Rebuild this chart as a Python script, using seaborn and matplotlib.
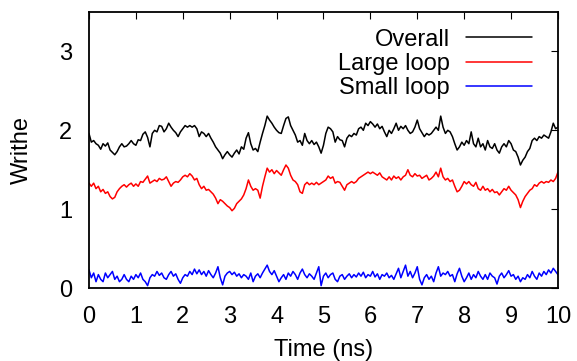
import numpy as np
import pandas as pd
import matplotlib
matplotlib.use("Agg")
import matplotlib.pyplot as plt
import seaborn as sns

# writhe traces, every 0.05 ns
overall = [1.96, 1.85, 1.87, 1.83, 1.81, 1.76, 1.83, 1.80, 1.84, 1.75,
           1.72, 1.69, 1.73, 1.79, 1.83, 1.79, 1.80, 1.83, 1.87, 1.83,
           1.81, 1.88, 1.87, 1.95, 1.98, 1.91, 1.79, 1.96, 2.00, 1.98,
           2.06, 2.05, 1.98, 2.02, 2.09, 2.04, 2.00, 1.97, 1.92, 1.98,
           2.02, 2.06, 2.04, 2.06, 2.04, 2.06, 2.02, 1.92, 1.98, 1.96,
           1.92, 1.96, 1.90, 1.85, 1.79, 1.75, 1.71, 1.64, 1.69, 1.73,
           1.69, 1.66, 1.71, 1.75, 1.70, 1.79, 1.76, 1.90, 1.97, 1.83,
           1.75, 1.77, 1.73, 1.85, 1.96, 2.06, 2.18, 2.13, 2.09, 2.04,
           2.00, 1.97, 1.96, 2.06, 2.15, 2.17, 2.06, 2.00, 1.94, 1.85,
           1.87, 1.81, 1.96, 1.87, 1.83, 1.87, 1.82, 1.85, 1.79, 1.71,
           1.81, 1.96, 2.04, 2.02, 1.98, 1.85, 1.92, 1.88, 1.87, 1.79,
           1.90, 1.94, 1.92, 1.96, 1.94, 2.02, 2.04, 2.00, 2.09, 2.06,
           2.11, 2.08, 2.04, 2.08, 2.02, 2.05, 1.98, 1.92, 2.00, 1.96,
           2.02, 2.09, 2.00, 2.05, 2.02, 2.06, 2.00, 1.96, 1.98, 2.04,
           2.13, 2.02, 1.97, 1.92, 1.96, 1.94, 1.96, 2.00, 2.04, 2.00,
           2.18, 2.04, 1.96, 2.00, 1.98, 1.92, 1.83, 1.75, 1.79, 1.85,
           1.81, 1.87, 1.83, 1.98, 1.83, 1.79, 1.90, 1.79, 1.83, 1.75,
           1.87, 1.79, 1.77, 1.83, 1.75, 1.71, 1.79, 1.83, 1.79, 1.87,
           1.83, 1.75, 1.73, 1.66, 1.56, 1.62, 1.66, 1.73, 1.77, 1.87,
           1.90, 1.87, 1.92, 1.90, 1.94, 1.92, 1.90, 1.98, 2.09, 2.02,
           2.04]

large_loop = [1.33, 1.29, 1.33, 1.26, 1.29, 1.22, 1.25, 1.20, 1.22, 1.16,
              1.13, 1.15, 1.22, 1.26, 1.29, 1.31, 1.28, 1.31, 1.33, 1.29,
              1.32, 1.29, 1.35, 1.34, 1.38, 1.42, 1.33, 1.35, 1.37, 1.35,
              1.39, 1.37, 1.38, 1.41, 1.35, 1.29, 1.33, 1.35, 1.34, 1.37,
              1.41, 1.43, 1.41, 1.45, 1.42, 1.37, 1.39, 1.31, 1.26, 1.29,
              1.24, 1.25, 1.22, 1.19, 1.14, 1.07, 1.12, 1.10, 1.07, 1.04,
              1.02, 0.98, 1.01, 1.07, 1.10, 1.13, 1.18, 1.26, 1.37, 1.29,
              1.24, 1.26, 1.24, 1.14, 1.29, 1.41, 1.52, 1.47, 1.50, 1.45,
              1.49, 1.46, 1.43, 1.50, 1.56, 1.52, 1.43, 1.37, 1.35, 1.31,
              1.22, 1.20, 1.31, 1.34, 1.31, 1.33, 1.31, 1.34, 1.31, 1.33,
              1.35, 1.37, 1.42, 1.39, 1.41, 1.33, 1.35, 1.34, 1.29, 1.24,
              1.31, 1.33, 1.35, 1.33, 1.35, 1.39, 1.41, 1.43, 1.45, 1.47,
              1.45, 1.47, 1.45, 1.43, 1.46, 1.41, 1.39, 1.37, 1.41, 1.37,
              1.42, 1.39, 1.41, 1.37, 1.41, 1.43, 1.50, 1.43, 1.41, 1.45,
              1.42, 1.43, 1.39, 1.41, 1.43, 1.37, 1.39, 1.42, 1.47, 1.41,
              1.52, 1.41, 1.37, 1.39, 1.35, 1.37, 1.29, 1.22, 1.24, 1.29,
              1.35, 1.32, 1.35, 1.31, 1.29, 1.34, 1.26, 1.24, 1.29, 1.24,
              1.26, 1.22, 1.25, 1.21, 1.22, 1.18, 1.22, 1.26, 1.24, 1.29,
              1.24, 1.21, 1.18, 1.12, 1.02, 1.10, 1.16, 1.20, 1.24, 1.26,
              1.31, 1.29, 1.33, 1.35, 1.33, 1.35, 1.34, 1.37, 1.35, 1.39,
              1.47]

small_loop = [0.23, 0.13, 0.19, 0.08, 0.17, 0.11, 0.08, 0.19, 0.13, 0.17,
              0.21, 0.11, 0.15, 0.08, 0.11, 0.17, 0.11, 0.08, 0.15, 0.11,
              0.17, 0.13, 0.19, 0.11, 0.08, 0.03, 0.13, 0.17, 0.15, 0.21,
              0.16, 0.19, 0.13, 0.11, 0.17, 0.21, 0.15, 0.18, 0.11, 0.06,
              0.13, 0.17, 0.15, 0.21, 0.17, 0.24, 0.18, 0.23, 0.17, 0.21,
              0.15, 0.22, 0.17, 0.13, 0.19, 0.27, 0.13, 0.04, 0.15, 0.19,
              0.21, 0.17, 0.20, 0.15, 0.18, 0.13, 0.17, 0.15, 0.11, 0.19,
              0.08, 0.15, 0.18, 0.13, 0.19, 0.24, 0.29, 0.21, 0.17, 0.22,
              0.15, 0.08, 0.13, 0.17, 0.11, 0.19, 0.15, 0.21, 0.17, 0.11,
              0.19, 0.24, 0.17, 0.13, 0.18, 0.15, 0.11, 0.19, 0.27, 0.03,
              0.15, 0.19, 0.13, 0.17, 0.19, 0.11, 0.08, 0.15, 0.17, 0.11,
              0.15, 0.18, 0.13, 0.17, 0.14, 0.19, 0.15, 0.20, 0.13, 0.17,
              0.15, 0.21, 0.14, 0.18, 0.11, 0.17, 0.15, 0.19, 0.13, 0.16,
              0.11, 0.18, 0.25, 0.13, 0.21, 0.29, 0.15, 0.21, 0.13, 0.19,
              0.27, 0.11, 0.04, 0.13, 0.17, 0.11, 0.15, 0.08, 0.19, 0.27,
              0.15, 0.19, 0.17, 0.21, 0.15, 0.17, 0.08, 0.18, 0.25, 0.15,
              0.08, 0.13, 0.19, 0.11, 0.17, 0.13, 0.21, 0.15, 0.11, 0.17,
              0.11, 0.19, 0.15, 0.13, 0.05, 0.15, 0.19, 0.13, 0.17, 0.22,
              0.15, 0.17, 0.11, 0.15, 0.08, 0.13, 0.11, 0.17, 0.13, 0.21,
              0.15, 0.11, 0.19, 0.15, 0.21, 0.17, 0.23, 0.19, 0.25, 0.21,
              0.17]

time_ns = np.linspace(0, 10, len(overall))

df = pd.DataFrame({
    "time": np.concatenate([time_ns, time_ns, time_ns]),
    "writhe": overall + large_loop + small_loop,
    "series": ["Overall"] * len(overall) + ["Large loop"] * len(large_loop)
              + ["Small loop"] * len(small_loop),
})

sns.set_style("white")
plt.rcParams["font.family"] = ["Liberation Sans", "DejaVu Sans"]
plt.rcParams["text.color"] = "black"
plt.rcParams["axes.labelcolor"] = "black"

fig = plt.figure(figsize=(5.77, 3.61), dpi=100)
ax = fig.add_axes([0.1542, 0.2022, 0.8128, 0.7645])

sns.lineplot(data=df, x="time", y="writhe", hue="series",
             palette={"Overall": "#000000", "Large loop": "#ff0000",
                      "Small loop": "#0000ff"},
             linewidth=1.1, ax=ax, legend=False)

for name, col in [("Overall", "#000000"), ("Large loop", "#ff0000"),
                  ("Small loop", "#0000ff")]:
    ax.plot([], [], color=col, linewidth=1.1, label=name)

ax.set_xlim(0, 10)
ax.set_ylim(0, 3.5)
ax.set_xticks(range(0, 11))
ax.set_yticks([0, 1, 2, 3])
ax.tick_params(direction="in", length=5, width=0.8, labelsize=17,
               top=True, right=True, colors="black")
ax.tick_params(axis="x", pad=13)
ax.tick_params(axis="y", pad=12)
for s in ax.spines.values():
    s.set_visible(True)
    s.set_color("black")
    s.set_linewidth(1.3)

ax.set_xlabel("Time (ns)", fontsize=17, labelpad=8)
ax.set_ylabel("Writhe", fontsize=17, labelpad=19)

ax.legend(loc="upper right", bbox_to_anchor=(0.945, 0.94),
          frameon=False, markerfirst=False, fontsize=17,
          handlelength=2.8, handletextpad=0.7, labelspacing=0.1,
          borderpad=0, borderaxespad=0)

plt.savefig("out.png", dpi=100)
